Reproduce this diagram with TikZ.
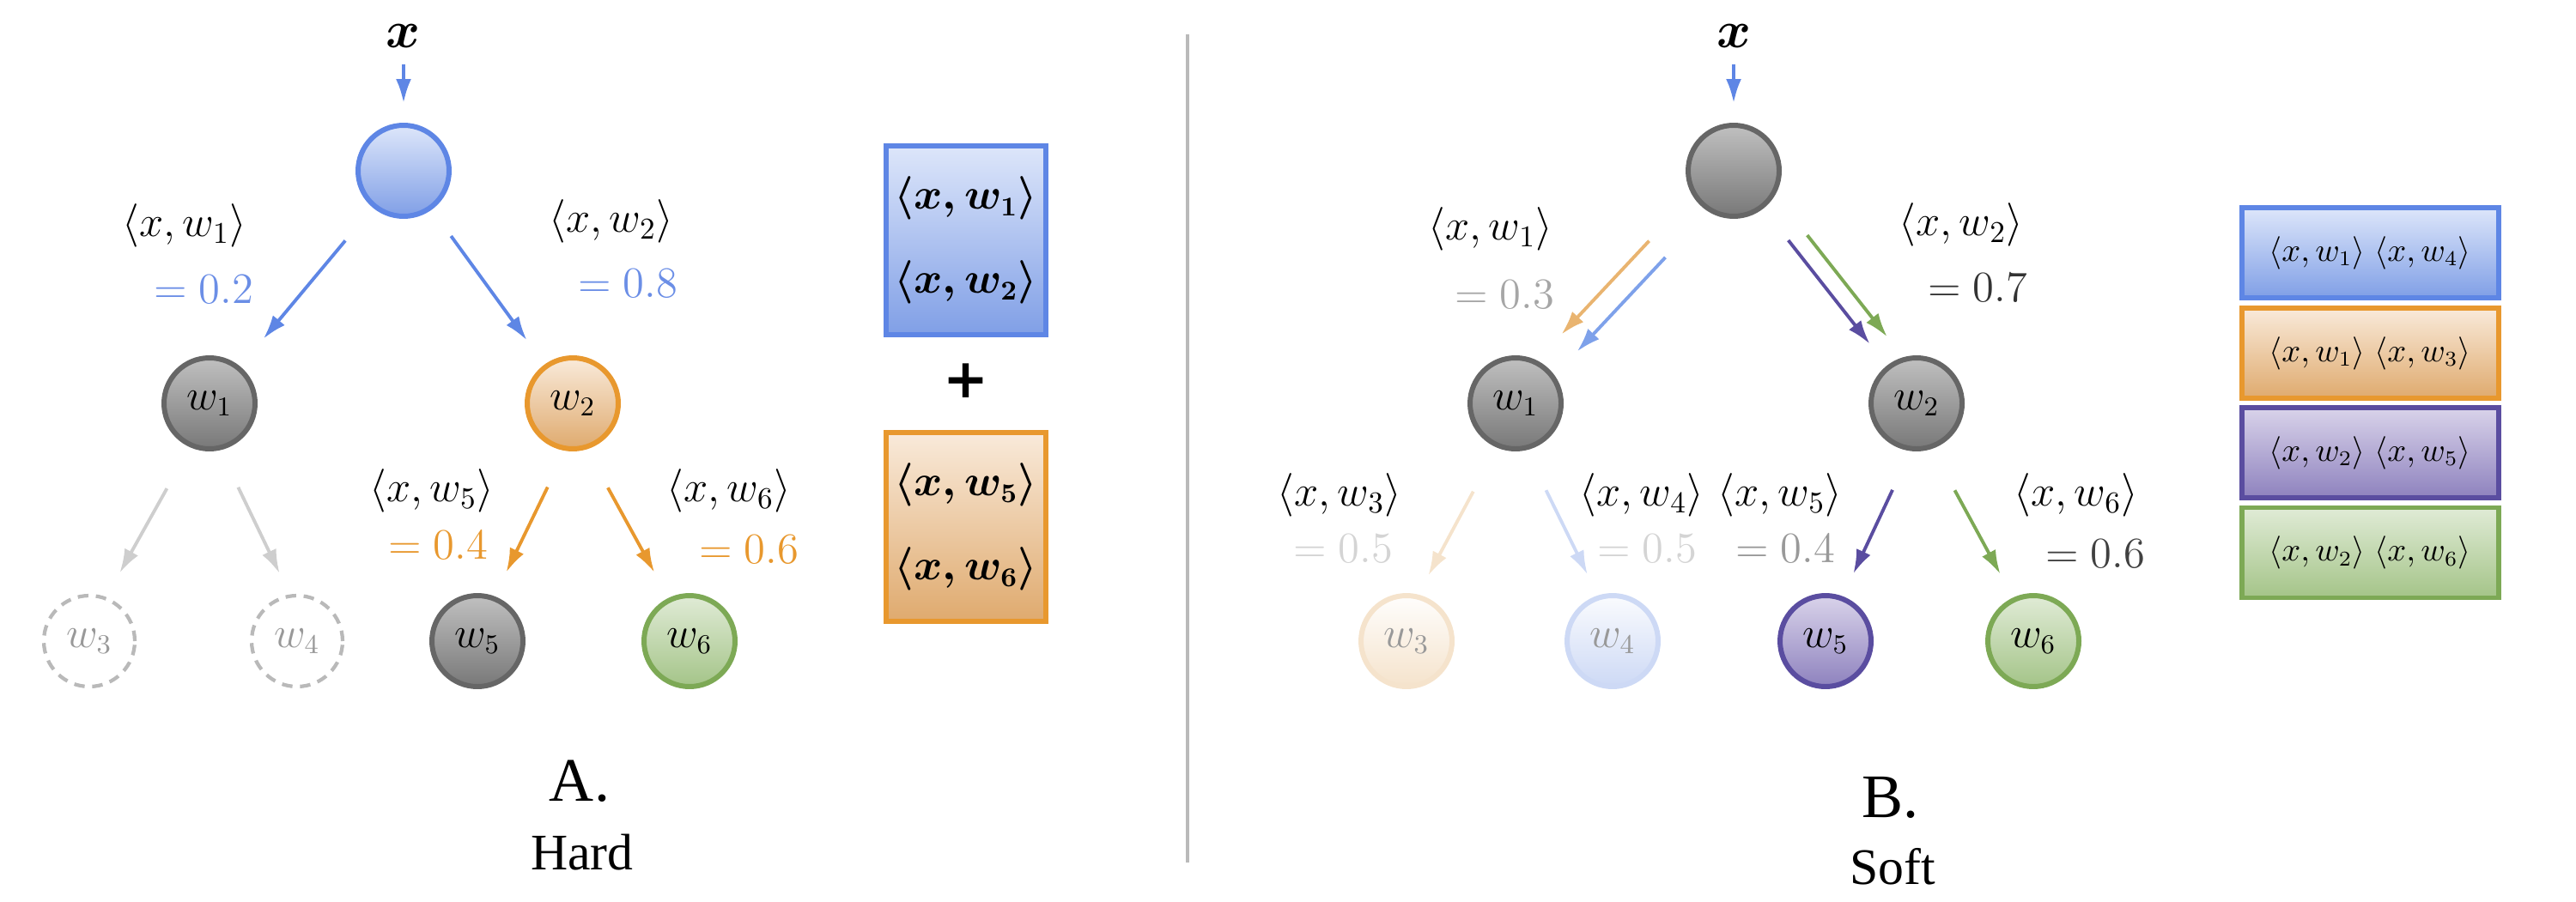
\documentclass[tikz,border=0pt]{standalone}
\usepackage{amsmath,amssymb}
\usepackage{fontspec}
\usepackage{xcolor}
\usepackage{tikz}
\usetikzlibrary{arrows.meta,positioning,calc}

\newfontfamily\capfont{Liberation Serif}
\newfontfamily\plusfont{DejaVu Sans}

% node and edge colours
\definecolor{edgeblue}{RGB}{94,134,229}
\definecolor{bluetop}{RGB}{221,230,250}
\definecolor{bluebot}{RGB}{128,159,230}
\definecolor{edgeorange}{RGB}{232,152,46}
\definecolor{orangetop}{RGB}{249,234,218}
\definecolor{orangebot}{RGB}{223,170,110}
\definecolor{edgegrey}{RGB}{102,102,102}
\definecolor{greytop}{RGB}{192,192,192}
\definecolor{greybot}{RGB}{120,120,120}
\definecolor{edgegreen}{RGB}{125,169,85}
\definecolor{greentop}{RGB}{224,235,214}
\definecolor{greenbot}{RGB}{164,196,136}
\definecolor{edgepurple}{RGB}{90,77,160}
\definecolor{purpletop}{RGB}{217,211,234}
\definecolor{purplebot}{RGB}{142,130,190}
\definecolor{softorange}{RGB}{233,180,112}
\definecolor{softblue}{RGB}{126,161,234}
\definecolor{paleorange}{RGB}{245,227,204}
\definecolor{paleblue}{RGB}{205,217,245}
\definecolor{ghostgrey}{RGB}{185,185,185}
\definecolor{arrowgrey}{RGB}{206,206,206}
\definecolor{valblue}{RGB}{107,142,230}

\begin{document}
\begin{tikzpicture}[
  >={Latex[length=2.8mm,width=1.8mm]},
  wnode/.style={circle, minimum size=1.06cm, inner sep=0pt, line width=1.7pt,
    font=\fontsize{13.5}{15}\selectfont},
  greynode/.style={wnode, draw=edgegrey, top color=greytop, bottom color=greybot},
  bluenode/.style={wnode, draw=edgeblue, top color=bluetop, bottom color=bluebot},
  orangenode/.style={wnode, draw=edgeorange, top color=orangetop, bottom color=orangebot},
  greennode/.style={wnode, draw=edgegreen, top color=greentop, bottom color=greenbot},
  purplenode/.style={wnode, draw=edgepurple, top color=purpletop, bottom color=purplebot},
  ghostnode/.style={wnode, draw=ghostgrey, dash pattern=on 3.5pt off 2.5pt, line width=1.2pt, text=black!40},
  fadeorange/.style={wnode, draw=paleorange, top color=white!95!paleorange, bottom color=paleorange, text=black!40},
  fadeblue/.style={wnode, draw=paleblue, top color=white!90!paleblue, bottom color=paleblue, text=black!40},
  xlbl/.style={font=\fontsize{16}{18}\selectfont, inner sep=1pt},
  lbl/.style={font=\fontsize{13.7}{16}\selectfont, inner sep=1pt},
  conn/.style={->, line width=1.1pt},
  boxA/.style={rectangle, minimum width=1.86cm, minimum height=2.20cm, inner sep=0pt,
    line width=1.7pt, align=center, font=\fontsize{13.5}{28}\selectfont\boldmath},
  boxB/.style={rectangle, minimum width=2.99cm, minimum height=1.05cm, inner sep=0pt,
    line width=1.7pt, font=\fontsize{10.5}{12}\selectfont},
  captxt/.style={font=\capfont\fontsize{20.5}{24}\selectfont, anchor=base},
  capname/.style={font=\capfont\fontsize{17}{20}\selectfont, anchor=base},
]
\useasboundingbox (0,0) rectangle (30,10.5);

% ---------------- A. Hard ----------------
\node[xlbl] (xA) at (4.70,10.08) {$\boldsymbol{x}$};
\node[bluenode] (rootA) at (4.70,8.51) {};
\node[greynode] (w1A) at (2.44,5.80) {$w_1$};
\node[orangenode] (w2A) at (6.67,5.80) {$w_2$};
\node[ghostnode] (w3A) at (1.04,3.03) {$w_3$};
\node[ghostnode] (w4A) at (3.46,3.03) {$w_4$};
\node[greynode] (w5A) at (5.56,3.03) {$w_5$};
\node[greennode] (w6A) at (8.03,3.03) {$w_6$};

% Edges
\draw[conn, edgeblue, shorten <=0.15cm, shorten >=0.23cm] (xA) -- (rootA);
\draw[conn, edgeblue, shorten <=0.50cm, shorten >=0.42cm] (rootA) -- (w1A);
\draw[conn, edgeblue, shorten <=0.38cm, shorten >=0.35cm] (rootA) -- (w2A);
\draw[conn, arrowgrey, shorten <=0.55cm, shorten >=0.32cm] (w1A.-114) -- (w3A.69);
\draw[conn, arrowgrey, shorten <=0.48cm, shorten >=0.27cm] (w1A.-77) -- (w4A.99);
\draw[conn, edgeorange, shorten <=0.47cm, shorten >=0.31cm] (w2A.-99) -- (w5A.69);
\draw[conn, edgeorange, shorten <=0.51cm, shorten >=0.34cm] (w2A.-73) -- (w6A.116);

% Scores
\node[lbl] (l1A) at (2.15,7.87) {$\langle x,w_1\rangle$};
\node[lbl, text=valblue] (v1A) at (2.37,7.13) {$=0.2$};
\node[lbl] (l2A) at (7.12,7.92) {$\langle x,w_2\rangle$};
\node[lbl, text=valblue] (v2A) at (7.31,7.20) {$=0.8$};
\node[lbl] (l5A) at (5.03,4.78) {$\langle x,w_5\rangle$};
\node[lbl, text=edgeorange] (v5A) at (5.10,4.15) {$=0.4$};
\node[lbl] (l6A) at (8.49,4.78) {$\langle x,w_6\rangle$};
\node[lbl, text=edgeorange] (v6A) at (8.72,4.10) {$=0.6$};

% Chosen path
\node[boxA, draw=edgeblue, top color=bluetop, bottom color=bluebot] (sum1A) at (11.25,7.70)
  {$\langle x,w_1\rangle$\\$\langle x,w_2\rangle$};
\node[font=\plusfont\bfseries\fontsize{18}{20}\selectfont, inner sep=0pt] (plusA) at (11.25,6.06) {+};
\node[boxA, draw=edgeorange, top color=orangetop, bottom color=orangebot] (sum2A) at (11.25,4.36)
  {$\langle x,w_5\rangle$\\$\langle x,w_6\rangle$};

\node[captxt] (capA) at (6.75,1.17) {A.};
\node[capname] (nameA) at (6.78,0.37) {Hard};

% Divider
\draw[black!27, line width=0.9pt] (13.83,0.45) -- (13.83,10.10);

% ---------------- B. Soft ----------------
\node[xlbl] (xB) at (20.19,10.08) {$\boldsymbol{x}$};
\node[greynode] (rootB) at (20.19,8.51) {};
\node[greynode] (w1B) at (17.65,5.80) {$w_1$};
\node[greynode] (w2B) at (22.32,5.80) {$w_2$};
\node[fadeorange] (w3B) at (16.38,3.03) {$w_3$};
\node[fadeblue] (w4B) at (18.78,3.03) {$w_4$};
\node[purplenode] (w5B) at (21.26,3.03) {$w_5$};
\node[greennode] (w6B) at (23.68,3.03) {$w_6$};

% Edges (one per path)
\draw[conn, edgeblue, shorten <=0.15cm, shorten >=0.23cm] (xB) -- (rootB);
\draw[conn, softorange, shorten <=1.27cm, shorten >=0.95cm]
  ([shift={(-0.116,0.110)}]rootB.center) -- ([shift={(-0.116,0.110)}]w1B.center);
\draw[conn, softblue, shorten <=1.28cm, shorten >=0.93cm]
  ([shift={(0.080,-0.075)}]rootB.center) -- ([shift={(0.080,-0.075)}]w1B.center);
\draw[conn, edgepurple, shorten <=0.47cm, shorten >=0.32cm] (rootB) -- (w2B);
\draw[conn, edgegreen, shorten <=1.12cm, shorten >=0.82cm]
  ([shift={(0.165,0.130)}]rootB.center) -- ([shift={(0.165,0.130)}]w2B.center);
\draw[conn, paleorange, shorten <=0.58cm, shorten >=0.25cm] (w1B.-113) -- (w3B.76);
\draw[conn, paleblue, shorten <=0.52cm, shorten >=0.27cm] (w1B.-77) -- (w4B.108);
\draw[conn, edgepurple, shorten <=0.50cm, shorten >=0.29cm] (w2B.-97) -- (w5B.69);
\draw[conn, edgegreen, shorten <=0.55cm, shorten >=0.31cm] (w2B.-71) -- (w6B.115);

% Scores
\node[lbl] (l1B) at (17.36,7.83) {$\langle x,w_1\rangle$};
\node[lbl, text=black!35] (v1B) at (17.52,7.07) {$=0.3$};
\node[lbl] (l2B) at (22.84,7.88) {$\langle x,w_2\rangle$};
\node[lbl, text=black!80] (v2B) at (23.03,7.15) {$=0.7$};
\node[lbl] (l3B) at (15.60,4.73) {$\langle x,w_3\rangle$};
\node[lbl, text=black!17] (v3B) at (15.64,4.11) {$=0.5$};
\node[lbl] (l4B) at (19.12,4.73) {$\langle x,w_4\rangle$};
\node[lbl, text=black!17] (v4B) at (19.18,4.11) {$=0.5$};
\node[lbl] (l5B) at (20.73,4.73) {$\langle x,w_5\rangle$};
\node[lbl, text=black!40] (v5B) at (20.79,4.11) {$=0.4$};
\node[lbl] (l6B) at (24.18,4.73) {$\langle x,w_6\rangle$};
\node[lbl, text=black!75] (v6B) at (24.40,4.05) {$=0.6$};

% Paths
\node[boxB, draw=edgeblue, top color=bluetop, bottom color=bluebot] (p1B) at (27.60,7.555)
  {$\langle x,w_1\rangle\;\langle x,w_4\rangle$};
\node[boxB, draw=edgeorange, top color=orangetop, bottom color=orangebot] (p2B) at (27.60,6.385)
  {$\langle x,w_1\rangle\;\langle x,w_3\rangle$};
\node[boxB, draw=edgepurple, top color=purpletop, bottom color=purplebot] (p3B) at (27.60,5.225)
  {$\langle x,w_2\rangle\;\langle x,w_5\rangle$};
\node[boxB, draw=edgegreen, top color=greentop, bottom color=greenbot] (p4B) at (27.60,4.06)
  {$\langle x,w_2\rangle\;\langle x,w_6\rangle$};

\node[captxt] (capB) at (22.01,0.98) {B.};
\node[capname] (nameB) at (22.04,0.20) {Soft};
\end{tikzpicture}
\end{document}
